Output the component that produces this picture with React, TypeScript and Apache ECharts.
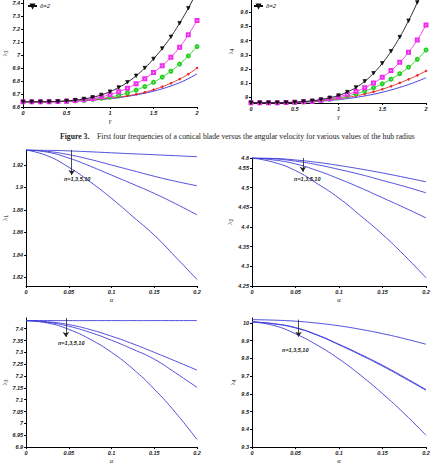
import React, { useEffect, useRef } from "react";
import * as echarts from "echarts";

// ---- angular velocity sweep (upper panels) ----
const GAMMA = [0, 0.1, 0.2, 0.3, 0.4, 0.5, 0.6, 0.7, 0.8, 0.9, 1.0, 1.1, 1.2, 1.3, 1.4, 1.5, 1.6, 1.7, 1.8, 1.9, 2.0];

const L3_BLUE = [6.640, 6.640, 6.640, 6.640, 6.641, 6.643, 6.646, 6.649, 6.653, 6.658, 6.664, 6.672, 6.682, 6.693, 6.706, 6.722, 6.740, 6.762, 6.787, 6.818, 6.855];
const L3_RED = [6.640, 6.640, 6.640, 6.640, 6.642, 6.644, 6.647, 6.651, 6.655, 6.661, 6.668, 6.676, 6.686, 6.698, 6.713, 6.733, 6.756, 6.783, 6.815, 6.853, 6.900];
const L3_GREEN = [6.640, 6.640, 6.640, 6.641, 6.642, 6.644, 6.647, 6.652, 6.659, 6.667, 6.677, 6.690, 6.708, 6.730, 6.757, 6.790, 6.830, 6.875, 6.930, 6.993, 7.065];
const L3_MAGENTA = [6.640, 6.640, 6.640, 6.641, 6.643, 6.645, 6.650, 6.656, 6.665, 6.678, 6.695, 6.717, 6.745, 6.779, 6.818, 6.866, 6.918, 6.982, 7.060, 7.155, 7.265];
const L3_BLACK = [6.640, 6.640, 6.640, 6.641, 6.643, 6.647, 6.653, 6.662, 6.675, 6.693, 6.718, 6.750, 6.790, 6.840, 6.900, 6.970, 7.050, 7.140, 7.245, 7.360, 7.490];

const L4_BLUE = [8.962, 8.962, 8.962, 8.962, 8.963, 8.964, 8.966, 8.969, 8.973, 8.978, 8.984, 8.991, 9.000, 9.010, 9.022, 9.036, 9.052, 9.070, 9.090, 9.113, 9.138];
const L4_RED = [8.962, 8.962, 8.962, 8.962, 8.963, 8.965, 8.968, 8.972, 8.977, 8.983, 8.991, 9.000, 9.011, 9.024, 9.039, 9.057, 9.078, 9.102, 9.127, 9.155, 9.186];
const L4_GREEN = [8.962, 8.962, 8.962, 8.962, 8.963, 8.965, 8.968, 8.972, 8.978, 8.986, 8.996, 9.009, 9.025, 9.044, 9.067, 9.095, 9.128, 9.167, 9.213, 9.268, 9.334];
const L4_MAGENTA = [8.962, 8.962, 8.962, 8.962, 8.963, 8.965, 8.968, 8.973, 8.980, 8.990, 9.003, 9.020, 9.041, 9.068, 9.101, 9.141, 9.189, 9.247, 9.318, 9.405, 9.510];
const L4_BLACK = [8.962, 8.962, 8.962, 8.962, 8.963, 8.966, 8.970, 8.976, 8.985, 8.997, 9.013, 9.037, 9.070, 9.113, 9.170, 9.240, 9.325, 9.425, 9.540, 9.670, 9.820];

// ---- hub-radius sweep (lower panels), n = 1, 3, 5, 10 ----
const ALPHA = [0, 0.025, 0.05, 0.075, 0.1, 0.125, 0.15, 0.175, 0.2];

const F1_N1 = [1.9334, 1.9332, 1.9326, 1.9318, 1.9309, 1.9300, 1.9292, 1.9283, 1.9274];
const F1_N3 = [1.9334, 1.9322, 1.9292, 1.9250, 1.9200, 1.9150, 1.9100, 1.9055, 1.9015];
const F1_N5 = [1.9334, 1.9315, 1.9262, 1.9190, 1.9110, 1.9030, 1.8947, 1.8855, 1.8756];
const F1_N10 = [1.9334, 1.9282, 1.9180, 1.9050, 1.8903, 1.8740, 1.8575, 1.8380, 1.8180];

const F2_N1 = [4.575, 4.574, 4.570, 4.564, 4.556, 4.547, 4.537, 4.526, 4.5145];
const F2_N3 = [4.575, 4.573, 4.567, 4.558, 4.546, 4.533, 4.518, 4.503, 4.4866];
const F2_N5 = [4.575, 4.570, 4.560, 4.543, 4.522, 4.499, 4.474, 4.449, 4.423];
const F2_N10 = [4.575, 4.564, 4.543, 4.510, 4.473, 4.428, 4.381, 4.328, 4.271];

const F3_N1 = [7.434, 7.434, 7.434, 7.434, 7.434, 7.434, 7.434, 7.434, 7.434];
const F3_N3 = [7.434, 7.429, 7.417, 7.396, 7.368, 7.336, 7.300, 7.263, 7.225];
const F3_N5 = [7.434, 7.427, 7.410, 7.384, 7.351, 7.313, 7.271, 7.213, 7.152];
const F3_N10 = [7.434, 7.424, 7.397, 7.355, 7.300, 7.230, 7.145, 7.045, 6.932];

const F4_N1 = [10.0176, 10.015, 10.009, 9.998, 9.983, 9.963, 9.939, 9.911, 9.879];
const F4_N3 = [10.005, 9.995, 9.973, 9.932, 9.879, 9.822, 9.761, 9.694, 9.624];
const F4_N5 = [10.005, 9.994, 9.971, 9.930, 9.876, 9.818, 9.756, 9.689, 9.620];
const F4_N10 = [10.005, 9.985, 9.938, 9.874, 9.796, 9.704, 9.601, 9.489, 9.367];

// ---- tick values ----
const GAMMA_TICKS_Y3 = [6.6, 6.7, 6.8, 6.9, 7, 7.1, 7.2, 7.3, 7.4];
const GAMMA_TICKS_Y4 = [9, 9.1, 9.2, 9.3, 9.4, 9.5, 9.6];
const F1_TICKS = [1.82, 1.84, 1.86, 1.88, 1.9, 1.92];
const F2_TICKS = [4.25, 4.3, 4.35, 4.4, 4.45, 4.5, 4.55, 4.575];
const F2_TICK_LABELS = ["4.25", "4.3", "4.35", "4.4", "4.45", "4.5", "4.55", "4.6"];
const F3_TICKS = [6.9, 6.95, 7, 7.05, 7.1, 7.15, 7.2, 7.25, 7.3, 7.35, 7.4];
const F4_TICKS = [9.3, 9.4, 9.5, 9.6, 9.7, 9.8, 9.9, 10];

// arrow annotations in data coordinates: [alpha, from, to] and label anchor [alpha, value]
const F1_ARROW = [0.0534, 1.9334, 1.9111];
const F1_NOTE = [0.0597, 1.9075];
const F2_ARROW = [0.0585, 4.575, 4.54];
const F2_NOTE = [0.0635, 4.5213];
const F3_ARROW = [0.0466, 7.445, 7.365];
const F3_NOTE = [0.0528, 7.3375];
const F4_ARROW = [0.0535, 10.018, 9.922];
const F4_NOTE = [0.0497, 9.849];

const N_LABEL = "n=1,3,5,10";
const LEGEND_NAME = "δ=2";
const CAPTION_HEAD = "Figure 3.";
const CAPTION_BODY = "First four frequencies of a conical blade versus the angular velocity for various values of the hub radius";

const SANS = "'Liberation Sans', Arial, sans-serif";
const SERIF = "'Liberation Serif', 'Times New Roman', serif";
const LINE_BLUE = "#3c3cd8";

const pairs = (xs: number[], ys: number[]) => xs.map((x, i) => [x, ys[i]]);
const fmt = (v: number) => String(parseFloat(v.toFixed(3)));

const tickLabel = {
  fontSize: 5.5,
  fontWeight: "bold" as const,
  fontStyle: "italic" as const,
  fontFamily: SANS,
  color: "#222",
};

function xAxisFor(gridIndex: number, max: number, interval: number, name: string) {
  return {
    type: "value",
    gridIndex,
    min: 0,
    max,
    interval,
    name,
    nameLocation: "middle",
    nameGap: 7,
    nameTextStyle: { fontSize: 6.5, fontStyle: "italic", fontFamily: SERIF, color: "#222" },
    axisLine: { show: true, onZero: false, lineStyle: { color: "#000", width: 1 } },
    axisTick: { show: true, inside: false, length: 2, lineStyle: { color: "#000" } },
    axisLabel: { ...tickLabel, margin: 3, formatter: fmt },
    splitLine: { show: false },
  };
}

function yAxisFor(
  gridIndex: number,
  min: number,
  max: number,
  ticks: number[],
  sub: string,
  nameGap: number,
  labels?: string[]
) {
  return {
    type: "value",
    gridIndex,
    min,
    max,
    name: `{l|λ}{s|${sub}}`,
    nameLocation: "middle",
    nameGap,
    nameRotate: 90,
    nameTextStyle: {
      color: "#222",
      rich: {
        l: { fontSize: 7, fontFamily: SERIF, color: "#222" },
        s: { fontSize: 4.5, fontFamily: SANS, color: "#222", verticalAlign: "bottom", padding: [3, 0, 0, 0] },
      },
    },
    axisLine: { show: true, onZero: false, lineStyle: { color: "#000", width: 1 } },
    axisTick: { show: true, inside: false, length: 2, customValues: ticks, lineStyle: { color: "#000" } },
    axisLabel: {
      ...tickLabel,
      margin: 3,
      customValues: ticks,
      formatter: (v: number) => {
        if (labels) {
          const i = ticks.findIndex((t) => Math.abs(t - v) < 1e-9);
          if (i >= 0) return labels[i];
        }
        return fmt(v);
      },
    },
    splitLine: { show: false },
  };
}

const MARKED = [
  { key: "blue", color: "#2a2ae8", symbol: "none", size: 0, rotate: 0 },
  { key: "red", color: "#e82222", symbol: "circle", size: 1.8, rotate: 0 },
  { key: "green", color: "#22d022", symbol: "emptyCircle", size: 3, rotate: 0 },
  { key: "magenta", color: "#f02cf0", symbol: "emptyRect", size: 3, rotate: 0 },
  { key: "black", color: "#111111", symbol: "triangle", size: 3.5, rotate: 180 },
];

function gammaSeries(axis: number, values: number[][]) {
  return values.map((ys, i) => {
    const m = MARKED[i];
    return {
      type: "line",
      name: m.key === "black" ? LEGEND_NAME : `hub ${m.key}`,
      xAxisIndex: axis,
      yAxisIndex: axis,
      data: pairs(GAMMA, ys),
      smooth: true,
      symbol: m.symbol,
      symbolSize: m.size,
      symbolRotate: m.rotate,
      showSymbol: m.symbol !== "none",
      lineStyle: { color: m.color, width: 0.9 },
      itemStyle: { color: m.color, borderColor: m.color, borderWidth: 0.7 },
      z: 2 + i,
      silent: true,
    };
  });
}

function alphaSeries(axis: number, values: number[][], arrow: number[], note: number[]) {
  return values.map((ys, i) => {
    const s: any = {
      type: "line",
      name: ["n=1", "n=3", "n=5", "n=10"][i],
      xAxisIndex: axis,
      yAxisIndex: axis,
      data: pairs(ALPHA, ys),
      smooth: true,
      showSymbol: false,
      symbol: "none",
      lineStyle: { color: LINE_BLUE, width: 0.9 },
      silent: true,
    };
    if (i === values.length - 1) {
      s.markLine = {
        silent: true,
        symbol: ["none", "arrow"],
        symbolSize: 5,
        label: { show: false },
        lineStyle: { color: "#222", width: 0.8, type: "solid" },
        itemStyle: { color: "#222" },
        emphasis: { disabled: true },
        data: [[{ coord: [arrow[0], arrow[1]] }, { coord: [arrow[0], arrow[2]] }]],
      };
      s.markPoint = {
        silent: true,
        symbol: "circle",
        symbolSize: 0,
        label: {
          show: true,
          position: "inside",
          formatter: N_LABEL,
          ...tickLabel,
        },
        data: [{ coord: [note[0], note[1]] }],
      };
    }
    return s;
  });
}

function legendAt(left: number) {
  return {
    data: [LEGEND_NAME],
    left,
    top: 3,
    itemWidth: 9,
    itemHeight: 3.5,
    itemGap: 2,
    padding: 0,
    selectedMode: false,
    textStyle: { fontSize: 6, fontStyle: "italic", fontFamily: SANS, color: "#222", padding: [0, 0, 0, -2] },
  };
}

export default function App() {
  const ref = useRef<HTMLDivElement>(null);

  useEffect(() => {
    document.body.style.margin = "0";
    if (!ref.current) return;
    const chart = echarts.init(ref.current, undefined, { renderer: "svg" });

    const option: any = {
      animation: false,
      backgroundColor: "#fff",
      grid: [
        { left: 21, top: 0, width: 176, height: 107 },
        { left: 251, top: 0, width: 175, height: 103 },
        { left: 21, top: 150, width: 176, height: 136 },
        { left: 252, top: 158, width: 174, height: 128 },
        { left: 21, top: 318, width: 176, height: 138 },
        { left: 252, top: 318, width: 174, height: 137 },
      ],
      xAxis: [
        xAxisFor(0, 2, 0.5, "γ"),
        xAxisFor(1, 2, 0.5, "γ"),
        xAxisFor(2, 0.2, 0.05, "α"),
        xAxisFor(3, 0.2, 0.05, "α"),
        xAxisFor(4, 0.2, 0.05, "α"),
        xAxisFor(5, 0.2, 0.05, "α"),
      ],
      yAxis: [
        yAxisFor(0, 6.6, 7.423, GAMMA_TICKS_Y3, "3", 11),
        yAxisFor(1, 8.96, 9.687, GAMMA_TICKS_Y4, "4", 16),
        yAxisFor(2, 1.8122, 1.9334, F1_TICKS, "1", 13),
        yAxisFor(3, 4.25, 4.575, F2_TICKS, "2", 15, F2_TICK_LABELS),
        yAxisFor(4, 6.9, 7.445, F3_TICKS, "3", 11),
        yAxisFor(5, 9.3, 10.027, F4_TICKS, "4", 11),
      ],
      legend: [legendAt(27), legendAt(253)],
      series: [
        ...gammaSeries(0, [L3_BLUE, L3_RED, L3_GREEN, L3_MAGENTA, L3_BLACK]),
        ...gammaSeries(1, [L4_BLUE, L4_RED, L4_GREEN, L4_MAGENTA, L4_BLACK]),
        ...alphaSeries(2, [F1_N1, F1_N3, F1_N5, F1_N10], F1_ARROW, F1_NOTE),
        ...alphaSeries(3, [F2_N1, F2_N3, F2_N5, F2_N10], F2_ARROW, F2_NOTE),
        ...alphaSeries(4, [F3_N1, F3_N3, F3_N5, F3_N10], F3_ARROW, F3_NOTE),
        ...alphaSeries(5, [F4_N1, F4_N3, F4_N5, F4_N10], F4_ARROW, F4_NOTE),
      ],
      graphic: [
        {
          type: "text",
          left: 60,
          top: 132.5,
          silent: true,
          style: {
            text: `{b|${CAPTION_HEAD}}    ${CAPTION_BODY}`,
            fontSize: 7.7,
            fontFamily: SERIF,
            fill: "#222",
            rich: { b: { fontWeight: "bold", fontSize: 7.7, fontFamily: SERIF, fill: "#222" } },
          },
        },
      ],
    };

    chart.setOption(option);
    return () => chart.dispose();
  }, []);

  return <div ref={ref} style={{ width: 433, height: 465 }} />;
}
